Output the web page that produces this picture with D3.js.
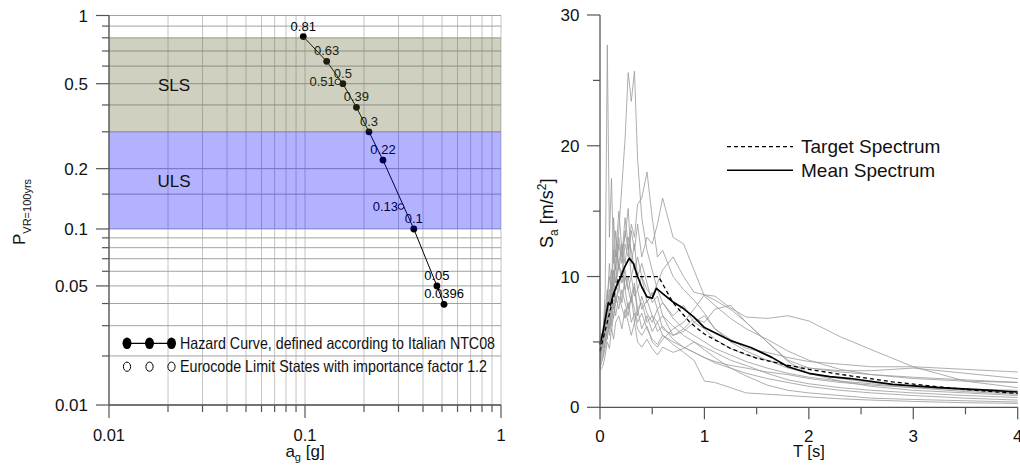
<!DOCTYPE html>
<html>
<head>
<meta charset="utf-8">
<script src="https://cdn.jsdelivr.net/npm/d3@7"></script>
<style>
  body { margin: 0; background: #fff; }
  svg { font-family: Arial, "Liberation Sans", sans-serif; display: block; }
</style>
</head>
<body>
<svg id="chart" width="1020" height="468"></svg>
<script>
// ---------- Hazard curve data (NTC08) ----------
const hazardP      = [0.81, 0.63, 0.5, 0.39, 0.3, 0.22, 0.1, 0.05, 0.0396];
const hazardAg     = [0.098, 0.129, 0.156, 0.183, 0.212, 0.250, 0.359, 0.471, 0.512];
const hazardLabels = ["0.81", "0.63", "0.5", "0.39", "0.3", "0.22", "0.1", "0.05", "0.0396"];
// Eurocode limit states (importance factor 1.2)
const eurocodeP      = [0.51, 0.13];
const eurocodeAg     = [0.147, 0.309];
const eurocodeLabels = ["0.51", "0.13"];
// Limit state bands (probability limits)
const bandNames  = ["SLS", "ULS"];
const bandTopP   = [0.8, 0.3];
const bandBottomP= [0.3, 0.1];
// Axis ticks
const agTickLabels = [0.01, 0.1, 1];
const pTicks = [1, 0.9, 0.8, 0.7, 0.6, 0.5, 0.4, 0.3, 0.2, 0.15, 0.1,
                0.09, 0.08, 0.07, 0.06, 0.05, 0.04, 0.03, 0.02, 0.01];
const pTickLabels = [1, 0.5, 0.2, 0.1, 0.05, 0.01];
const legendHazard   = "Hazard Curve, defined according to Italian NTC08";
const legendEurocode = "Eurocode Limit States with importance factor 1.2";

// ---------- Response spectra data ----------
const periods = [0, 0.03, 0.05, 0.07, 0.09, 0.11, 0.13, 0.15, 0.18, 0.21, 0.24, 0.27,
                 0.30, 0.33, 0.36, 0.40, 0.45, 0.50, 0.55, 0.60, 0.70, 0.80, 0.90, 1.0,
                 1.1, 1.25, 1.4, 1.6, 1.8, 2.0, 2.3, 2.6, 3.0, 3.5, 4.0];
const record01 = [3.6, 5.5, 9.0, 27.7, 13.0, 17.5, 11.0, 13.5, 10.5, 12.0, 9.0, 10.0, 8.5, 9.5, 7.5, 8.0, 6.5, 7.0, 5.8, 6.2, 5.2, 4.6, 4.2, 3.8, 3.4, 3.0, 2.6, 2.2, 1.9, 1.6, 1.3, 1.1, 0.9, 0.7, 0.55];
const record02 = [4.2, 5.0, 6.5, 8.0, 7.0, 9.5, 8.5, 11.0, 13.5, 17.0, 20.5, 25.6, 23.4, 25.7, 19.0, 14.5, 12.0, 10.5, 9.0, 8.0, 6.8, 6.0, 5.5, 5.0, 4.5, 4.0, 3.5, 3.0, 2.6, 2.3, 2.0, 1.8, 1.5, 1.2, 1.0];
const record03 = [4.8, 6.0, 7.5, 6.5, 9.0, 8.0, 10.5, 9.5, 12.5, 11.0, 13.5, 12.0, 14.0, 13.0, 15.5, 16.0, 18.0, 14.5, 11.5, 12.0, 10.0, 9.0, 8.2, 7.2, 6.0, 5.0, 4.3, 3.6, 3.0, 2.6, 2.2, 1.9, 1.6, 1.3, 1.1];
const record04 = [3.8, 4.5, 5.5, 7.0, 6.0, 8.5, 7.5, 9.0, 11.0, 10.0, 12.5, 11.5, 13.5, 12.0, 14.0, 11.5, 13.0, 12.5, 14.0, 16.0, 13.0, 12.5, 10.5, 8.5, 7.8, 6.8, 6.0, 5.2, 4.3, 3.6, 2.9, 2.5, 2.2, 2.0, 1.9];
const record05 = [4.5, 5.2, 6.0, 7.5, 8.0, 9.0, 10.5, 9.5, 11.0, 12.5, 11.0, 13.0, 12.0, 10.5, 11.5, 10.0, 9.0, 8.5, 9.5, 10.5, 11.5, 10.0, 8.8, 8.6, 8.5, 7.6, 6.9, 6.8, 7.0, 6.6, 5.4, 4.4, 3.1, 2.0, 1.5];
const record06 = [3.0, 3.8, 4.5, 5.5, 6.5, 5.8, 7.0, 8.5, 7.5, 9.0, 8.0, 7.0, 8.5, 7.5, 6.5, 7.2, 6.0, 5.2, 4.8, 5.5, 4.8, 4.2, 3.6, 2.0, 1.9, 1.5, 1.1, 1.0, 0.9, 0.8, 0.65, 0.55, 0.45, 0.35, 0.3];
const record07 = [3.5, 4.2, 5.0, 6.5, 5.5, 7.5, 6.8, 8.0, 9.5, 8.0, 10.0, 9.0, 8.0, 9.2, 7.0, 8.5, 7.2, 6.5, 7.5, 6.0, 5.5, 5.8, 6.5, 7.0, 6.0, 5.2, 4.5, 4.2, 3.8, 3.5, 3.3, 3.1, 3.1, 2.9, 2.7];
const record08 = [4.0, 4.8, 6.0, 5.2, 7.0, 6.2, 8.0, 7.0, 8.5, 7.6, 6.8, 8.0, 6.5, 7.2, 6.0, 5.5, 6.2, 5.0, 4.6, 5.2, 6.0, 6.5, 7.5, 8.6, 8.2, 7.5, 6.5, 5.0, 3.6, 3.0, 2.8, 2.8, 3.0, 2.6, 2.2];
const record09 = [2.8, 3.2, 4.0, 5.0, 4.5, 6.0, 5.2, 6.5, 7.0, 6.0, 7.5, 6.5, 5.5, 6.5, 5.0, 4.6, 5.2, 4.5, 4.0, 4.6, 4.2, 4.5, 5.0, 4.4, 3.8, 3.0, 2.4, 1.7, 1.3, 1.1, 0.9, 0.7, 0.6, 0.5, 0.4];
const record10 = [4.4, 5.5, 7.0, 8.5, 10.0, 8.5, 12.0, 10.5, 13.0, 11.5, 14.5, 12.5, 10.0, 11.0, 9.0, 10.0, 8.0, 8.8, 7.5, 8.0, 7.0, 7.8, 6.5, 6.0, 5.2, 4.5, 4.0, 3.6, 3.2, 3.0, 2.7, 2.5, 2.3, 2.1, 1.9];
const record11 = [3.2, 4.0, 5.0, 6.0, 7.5, 6.5, 9.5, 8.0, 9.0, 10.5, 9.0, 7.5, 8.5, 6.5, 7.5, 6.0, 7.0, 5.8, 6.5, 5.5, 5.0, 4.6, 4.2, 3.8, 3.5, 3.2, 3.0, 2.7, 2.5, 2.2, 1.9, 1.7, 1.5, 1.4, 1.3];
const record12 = [5.0, 6.0, 7.5, 9.0, 8.0, 10.5, 9.5, 12.0, 11.0, 9.5, 10.5, 9.0, 10.0, 8.5, 9.0, 7.5, 8.2, 7.0, 6.5, 7.0, 5.5, 6.0, 6.8, 6.5, 7.5, 7.8, 6.5, 5.0, 3.5, 2.6, 2.0, 1.6, 1.3, 1.1, 0.9];
const record13 = [3.8, 5.0, 6.0, 8.0, 11.0, 9.0, 14.5, 11.5, 15.0, 12.0, 13.0, 15.2, 11.0, 12.5, 10.0, 11.0, 9.5, 8.0, 8.5, 7.0, 6.2, 5.5, 5.0, 4.6, 4.2, 3.6, 3.2, 2.6, 2.1, 1.8, 1.5, 1.3, 1.1, 0.9, 0.75];
const records = [record01, record02, record03, record04, record05, record06, record07,
                 record08, record09, record10, record11, record12, record13];

const meanT  = [0, 0.03, 0.05, 0.08, 0.1, 0.13, 0.16, 0.2, 0.24, 0.28, 0.32, 0.36, 0.4, 0.45, 0.5, 0.54,
                0.6, 0.7, 0.8, 0.9, 1.0, 1.1, 1.25, 1.45, 1.65, 1.8, 2.0, 2.2, 2.4, 2.8, 3.25, 3.75, 4.0];
const meanSa = [4.8, 5.8, 6.7, 8.0, 7.8, 8.7, 9.3, 10.0, 10.8, 11.4, 11.0, 10.0, 9.2, 8.45, 8.35, 9.1,
                8.7, 8.05, 7.55, 6.9, 6.1, 5.7, 5.1, 4.55, 3.8, 3.1, 2.6, 2.35, 2.2, 1.76, 1.5, 1.3, 1.17];
const targetT  = [0, 0.18, 0.56, 0.7, 0.86, 1.0, 1.25, 1.5, 1.75, 2.0, 2.4, 2.8, 3.2, 3.6, 4.0];
const targetSa = [4.3, 10, 10, 8.0, 6.5, 5.6, 4.5, 3.75, 3.3, 2.9, 2.4, 1.95, 1.6, 1.3, 1.05];

const saTicks = [0, 5, 10, 15, 20, 25, 30];
const saTickLabels = [0, 10, 20, 30];
const tTicks = [0, 0.5, 1, 1.5, 2, 2.5, 3, 3.5, 4];
const tTickLabels = [0, 1, 2, 3, 4];
const spectraLegend = ["Target Spectrum", "Mean Spectrum"];

const svg = d3.select("#chart");
const axisColor = "#555";

// ================= Left panel: hazard curve =================
const L = { left: 109, right: 501, top: 15.5, bottom: 405 };
const xAg = d3.scaleLog().domain([0.01, 1]).range([L.left, L.right]);
// probability axis: logarithmic with a slight quadratic stretch of the decades
const warpK = 0.0807;
const warp = p => { const u = -Math.log10(p); return u - warpK * u * u; };
const yLin = d3.scaleLinear().domain([warp(1), warp(0.01)]).range([L.top, L.bottom]);
const yP = p => yLin(warp(p));

const left = svg.append("g");

// grid
left.append("g").selectAll("line").data(xAg.ticks()).join("line")
  .attr("x1", d => xAg(d)).attr("x2", d => xAg(d))
  .attr("y1", L.top).attr("y2", L.bottom)
  .attr("stroke", "#c4c4c4").attr("stroke-width", 1);
left.append("g").selectAll("line").data(pTicks).join("line")
  .attr("x1", L.left).attr("x2", L.right)
  .attr("y1", d => yP(d)).attr("y2", d => yP(d))
  .attr("stroke", "#a2a2a2").attr("stroke-width", 1);

// hazard curve
const hazard = hazardP.map((p, i) => ({ p, ag: hazardAg[i], label: hazardLabels[i] }));
const euro = eurocodeP.map((p, i) => ({ p, ag: eurocodeAg[i], label: eurocodeLabels[i] }));

left.append("path").datum(hazard)
  .attr("d", d3.line().x(d => xAg(d.ag)).y(d => yP(d.p)))
  .attr("fill", "none").attr("stroke", "#000").attr("stroke-width", 1);
left.append("g").selectAll("circle").data(hazard).join("circle")
  .attr("cx", d => xAg(d.ag)).attr("cy", d => yP(d.p)).attr("r", 3.4).attr("fill", "#000");
left.append("g").selectAll("text").data(hazard).join("text")
  .attr("x", d => xAg(d.ag)).attr("y", d => yP(d.p) - 6)
  .attr("text-anchor", "middle").attr("font-size", 13).attr("fill", "#000")
  .text(d => d.label);
left.append("g").selectAll("circle").data(euro).join("circle")
  .attr("cx", d => xAg(d.ag)).attr("cy", d => yP(d.p)).attr("r", 2.8)
  .attr("fill", "#fff").attr("stroke", "#000").attr("stroke-width", 1);
left.append("g").selectAll("text").data(euro).join("text")
  .attr("x", d => xAg(d.ag) - 3).attr("y", d => yP(d.p)).attr("dy", "0.36em")
  .attr("text-anchor", "end").attr("font-size", 13).attr("fill", "#000")
  .text(d => d.label);

// limit-state bands (translucent, over the curve)
const bandFill = ["rgba(98,98,45,0.3)", "rgba(0,0,255,0.3)"];
const bands = bandNames.map((n, i) => ({ name: n, top: bandTopP[i], bottom: bandBottomP[i], fill: bandFill[i] }));
left.append("g").selectAll("rect").data(bands).join("rect")
  .attr("x", L.left).attr("width", L.right - L.left)
  .attr("y", d => yP(d.top)).attr("height", d => yP(d.bottom) - yP(d.top))
  .attr("fill", d => d.fill);
left.append("g").selectAll("text").data(bands).join("text")
  .attr("x", L.left + 65).attr("y", d => (yP(d.top) + yP(d.bottom)) / 2).attr("dy", "0.36em")
  .attr("text-anchor", "middle").attr("font-size", 17).attr("fill", "#111")
  .text(d => d.name);

// axes
left.append("line").attr("x1", L.left).attr("x2", L.left).attr("y1", L.top).attr("y2", L.bottom)
  .attr("stroke", axisColor).attr("stroke-width", 1.3);
left.append("line").attr("x1", L.left).attr("x2", L.right).attr("y1", L.bottom).attr("y2", L.bottom)
  .attr("stroke", axisColor).attr("stroke-width", 1.3);
left.append("g").selectAll("line").data(pTicks).join("line")
  .attr("x1", d => L.left - (pTickLabels.includes(d) ? 13 : 7)).attr("x2", L.left)
  .attr("y1", d => yP(d)).attr("y2", d => yP(d))
  .attr("stroke", axisColor).attr("stroke-width", 1.2);
left.append("g").selectAll("text").data(pTickLabels).join("text")
  .attr("x", L.left - 21).attr("y", d => yP(d)).attr("dy", "0.36em")
  .attr("text-anchor", "end").attr("font-size", 17).attr("fill", "#111")
  .text(d => String(d));
left.append("g").selectAll("line").data(xAg.ticks()).join("line")
  .attr("x1", d => xAg(d)).attr("x2", d => xAg(d))
  .attr("y1", L.bottom).attr("y2", d => L.bottom + (agTickLabels.some(v => Math.abs(v - d) < 1e-9) ? 13 : 7))
  .attr("stroke", axisColor).attr("stroke-width", 1.2);
left.append("g").selectAll("text").data(agTickLabels).join("text")
  .attr("x", d => xAg(d)).attr("y", 440.5)
  .attr("text-anchor", "middle").attr("font-size", 16.5).attr("fill", "#111")
  .text(d => String(d));

// axis titles
const xTitleL = left.append("text").attr("x", (L.left + L.right) / 2).attr("y", 457)
  .attr("text-anchor", "middle").attr("font-size", 17).attr("fill", "#111");
xTitleL.append("tspan").text("a");
xTitleL.append("tspan").attr("font-size", 11).attr("dy", 4).text("g");
xTitleL.append("tspan").attr("dy", -4).text(" [g]");

const yTitleL = left.append("text").attr("transform", "translate(25,245) rotate(-90)")
  .attr("font-size", 17).attr("fill", "#111");
yTitleL.append("tspan").text("P");
yTitleL.append("tspan").attr("font-size", 11).attr("dy", 6).text("VR=100yrs");

// legend
const legX = [127, 149.5, 171.5];
const legY = [343.3, 366.7];
const lg = left.append("g");
lg.append("line").attr("x1", legX[0]).attr("x2", legX[2]).attr("y1", legY[0]).attr("y2", legY[0])
  .attr("stroke", "#000").attr("stroke-width", 1.2);
lg.selectAll("ellipse.f").data(legX).join("ellipse").attr("class", "f")
  .attr("cx", d => d).attr("cy", legY[0]).attr("rx", 4.5).attr("ry", 5.8).attr("fill", "#000");
lg.selectAll("ellipse.o").data(legX).join("ellipse").attr("class", "o")
  .attr("cx", d => d).attr("cy", legY[1]).attr("rx", 3.6).attr("ry", 4.6)
  .attr("fill", "#fff").attr("stroke", "#000").attr("stroke-width", 1);
lg.append("text").attr("x", 180).attr("y", 349).attr("font-size", 16.5).attr("fill", "#111")
  .attr("textLength", 315).attr("lengthAdjust", "spacingAndGlyphs").text(legendHazard);
lg.append("text").attr("x", 180).attr("y", 371.7).attr("font-size", 16.5).attr("fill", "#111")
  .attr("textLength", 307).attr("lengthAdjust", "spacingAndGlyphs").text(legendEurocode);

// ================= Right panel: response spectra =================
const R = { left: 600, right: 1017.7, top: 15, bottom: 407.3 };
const xT = d3.scaleLinear().domain([0, 4]).range([R.left, R.right]);
const ySa = d3.scaleLinear().domain([0, 30]).range([R.bottom, R.top]);
const right = svg.append("g");

const spectrumLine = d3.line().x(d => xT(d[0])).y(d => ySa(d[1]));

right.append("g").selectAll("path").data(records).join("path")
  .attr("d", rec => spectrumLine(rec.map((v, i) => [periods[i], v])))
  .attr("fill", "none").attr("stroke", "#9a9a9a").attr("stroke-opacity", 0.8)
  .attr("stroke-width", 1).attr("stroke-linejoin", "round");

right.append("path").datum(targetT.map((t, i) => [t, targetSa[i]]))
  .attr("d", spectrumLine).attr("fill", "none")
  .attr("stroke", "#000").attr("stroke-width", 1.3).attr("stroke-dasharray", "4,3");
right.append("path").datum(meanT.map((t, i) => [t, meanSa[i]]))
  .attr("d", spectrumLine).attr("fill", "none")
  .attr("stroke", "#000").attr("stroke-width", 1.7).attr("stroke-linejoin", "round");

// axes
right.append("line").attr("x1", R.left).attr("x2", R.left).attr("y1", R.top).attr("y2", R.bottom)
  .attr("stroke", axisColor).attr("stroke-width", 1.3);
right.append("line").attr("x1", R.left).attr("x2", R.right).attr("y1", R.bottom).attr("y2", R.bottom)
  .attr("stroke", axisColor).attr("stroke-width", 1.3);
right.append("g").selectAll("line").data(saTicks).join("line")
  .attr("x1", d => R.left - (saTickLabels.includes(d) ? 13 : 7)).attr("x2", R.left)
  .attr("y1", d => ySa(d)).attr("y2", d => ySa(d))
  .attr("stroke", axisColor).attr("stroke-width", 1.2);
right.append("g").selectAll("text").data(saTickLabels).join("text")
  .attr("x", R.left - 20.5).attr("y", d => ySa(d)).attr("dy", "0.36em")
  .attr("text-anchor", "end").attr("font-size", 17).attr("fill", "#111")
  .text(d => String(d));
right.append("g").selectAll("line").data(tTicks).join("line")
  .attr("x1", d => xT(d)).attr("x2", d => xT(d))
  .attr("y1", R.bottom).attr("y2", d => R.bottom + (tTickLabels.includes(d) ? 12 : 7))
  .attr("stroke", axisColor).attr("stroke-width", 1.2);
right.append("g").selectAll("text").data(tTickLabels).join("text")
  .attr("x", d => xT(d)).attr("y", 442)
  .attr("text-anchor", "middle").attr("font-size", 17).attr("fill", "#111")
  .text(d => String(d));

right.append("text").attr("x", xT(2)).attr("y", 457)
  .attr("text-anchor", "middle").attr("font-size", 16.5).attr("fill", "#111").text("T [s]");

const yTitleR = right.append("text").attr("transform", "translate(553,248) rotate(-90)")
  .attr("font-size", 18).attr("fill", "#111");
yTitleR.append("tspan").text("S");
yTitleR.append("tspan").attr("font-size", 12).attr("dy", 5).text("a");
yTitleR.append("tspan").attr("dy", -5).text(" [m/s");
yTitleR.append("tspan").attr("font-size", 12).attr("dy", -7).text("2");
yTitleR.append("tspan").attr("dy", 7).text("]");

// legend
const rl = right.append("g");
rl.append("line").attr("x1", 727).attr("x2", 793).attr("y1", 146.7).attr("y2", 146.7)
  .attr("stroke", "#000").attr("stroke-width", 1.3).attr("stroke-dasharray", "4,3");
rl.append("line").attr("x1", 727).attr("x2", 793).attr("y1", 170.3).attr("y2", 170.3)
  .attr("stroke", "#000").attr("stroke-width", 1.5);
rl.selectAll("text").data(spectraLegend).join("text")
  .attr("x", 801).attr("y", (d, i) => i === 0 ? 153.3 : 176.7)
  .attr("font-size", 19).attr("fill", "#111").text(d => d);
</script>
</body>
</html>
